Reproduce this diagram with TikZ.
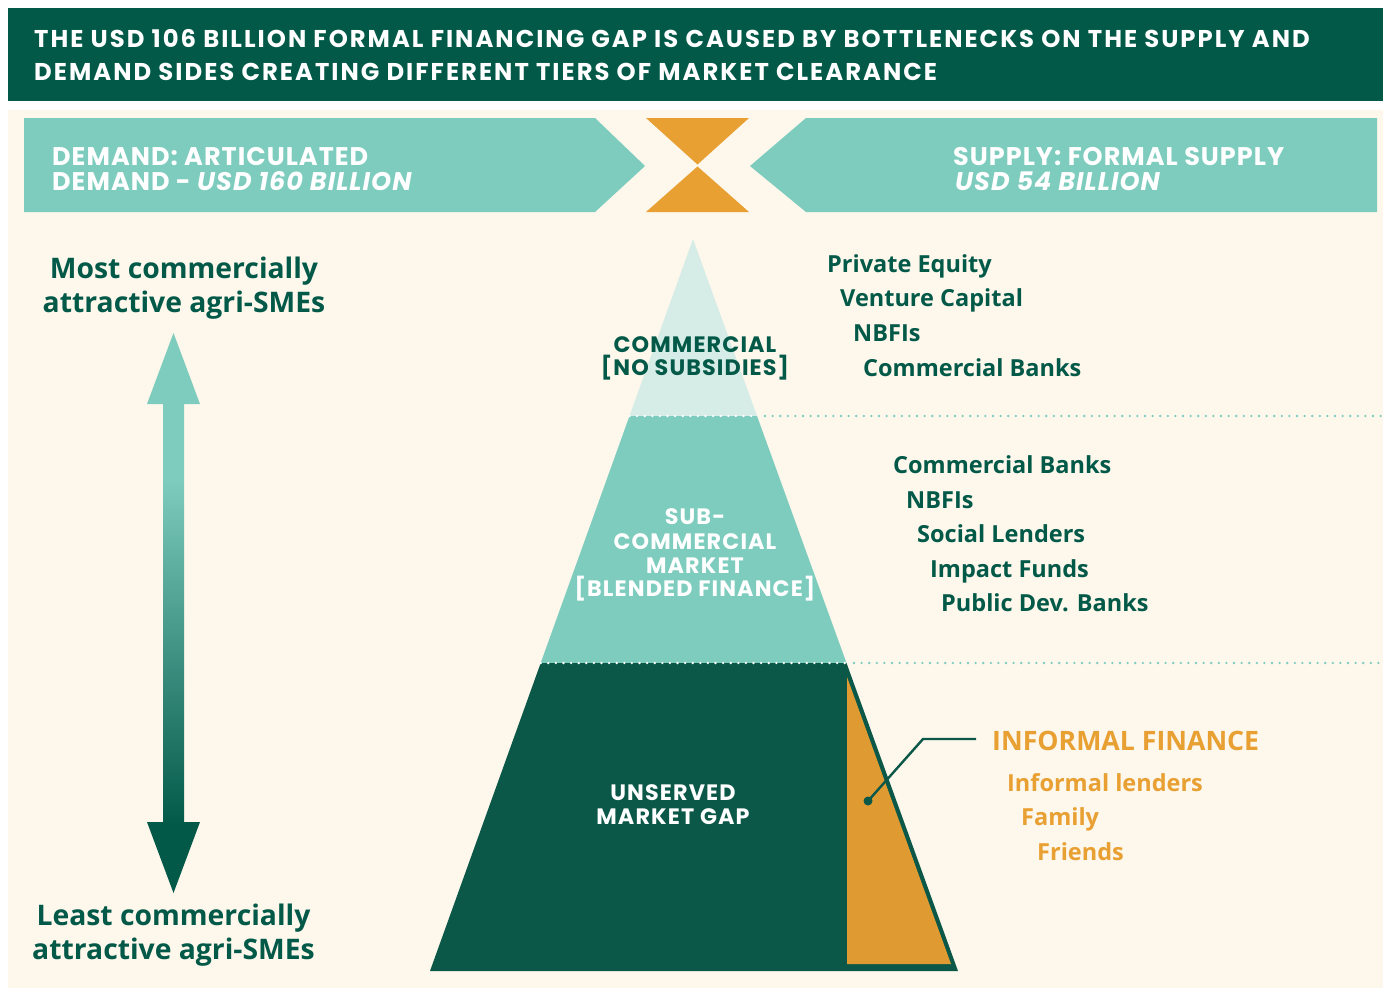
\documentclass[tikz,border=0pt]{standalone}
\usepackage{fontspec}
\setmainfont{Open Sans}
\newfontfamily\geoH[LetterSpace=8.3]{Poppins}
\newfontfamily\geoB[LetterSpace=4]{Poppins}
\newfontfamily\geoT[LetterSpace=5]{Poppins}
\definecolor{dkgreen}{RGB}{2,89,72}
\definecolor{pyrdark}{RGB}{12,88,72}
\definecolor{tealc}{RGB}{126,204,190}
\definecolor{lighttop}{RGB}{214,236,230}
\definecolor{cream}{RGB}{253,247,236}
\definecolor{orangec}{RGB}{233,160,51}
\definecolor{orangetri}{RGB}{223,155,50}
\pgfdeclareverticalshading{arrowgrad}{100bp}{color(0bp)=(dkgreen); color(31bp)=(dkgreen); color(62bp)=(tealc); color(100bp)=(tealc)}
\tikzset{
  hdr/.style={anchor=base west, inner sep=0pt, text=white, font=\geoH\bfseries\fontsize{24.3}{28}\selectfont},
  banner/.style={anchor=base west, inner sep=0pt, text=white, font=\geoB\bfseries\fontsize{25.5}{30}\selectfont},
  side/.style={anchor=base, inner sep=0pt, text=dkgreen, font=\bfseries\fontsize{28.3}{34}\selectfont},
  tier/.style={anchor=base, inner sep=0pt, font=\geoT\bfseries\fontsize{22.3}{24}\selectfont},
  lender/.style={anchor=base west, inner sep=0pt, text=dkgreen, font=\bfseries\fontsize{23.5}{26}\selectfont},
  inf/.style={anchor=base west, inner sep=0pt, text=orangec, font=\bfseries\fontsize{23.5}{26}\selectfont},
  dotline/.style={line width=2.6pt, line cap=round, dash pattern=on 0pt off 7.6pt},
}
\begin{document}
\begin{tikzpicture}[x=1pt,y=-1pt]
\useasboundingbox (0,0) rectangle (1383,990);
\fill[white] (0,0) rectangle (1383,990);
% header
\fill[dkgreen] (8,8) rectangle (1383,101);
\node[hdr] (h1) at (34,48) {THE USD 106 BILLION FORMAL FINANCING GAP IS CAUSED BY BOTTLENECKS ON THE SUPPLY AND};
\node[hdr] (h2) at (34,81) {DEMAND SIDES CREATING DIFFERENT TIERS OF MARKET CLEARANCE};
% cream panel
\fill[cream] (8,110) rectangle (1383,988);
% banners
\fill[tealc] (24,118) -- (595,118) -- (645,166) -- (595,212) -- (24,212) -- cycle;
\fill[tealc] (806,118) -- (1377,118) -- (1377,212) -- (806,212) -- (750,166) -- cycle;
\fill[orangec] (646,118) -- (749,118) -- (697.5,164.5) -- cycle;
\fill[orangec] (697.5,166.5) -- (749,212) -- (646,212) -- cycle;
\node[banner] (d1) at (52,165) {DEMAND: ARTICULATED};
\node[banner] (d2) at (52,190) {DEMAND - \itshape USD 160 BILLION};
\node[banner] (s1) at (953,165) {SUPPLY: FORMAL SUPPLY};
\node[banner] (s2) at (955,190) {\itshape USD 54 BILLION};
% side labels
\node[side] (m1) at (184,278) {Most commercially};
\node[side] (m2) at (184,312) {attractive agri-SMEs};
\node[side] (l1) at (173.5,925) {Least commercially};
\node[side] (l2) at (173.5,959) {attractive agri-SMEs};
% gradient double arrow
\shade[shading=arrowgrad] (173.5,333) -- (200,404) -- (184,404) -- (184,822) -- (200,822) -- (173.5,893)
  -- (147,822) -- (163,822) -- (163,404) -- (147,404) -- cycle;
% pyramid
\fill[lighttop] (693,239) -- (757,416) -- (629.5,416) -- cycle;
\fill[tealc] (629.5,416) -- (757,416) -- (846.5,663) -- (540.7,663) -- cycle;
\fill[pyrdark] (540.7,663) -- (846.5,663) -- (958,971) -- (430,971) -- cycle;
\fill[orangetri] (847,677) -- (951,964) -- (847,964) -- cycle;
% dotted tier lines
\draw[dotline, white] (629.5,416) -- (757,416);
\draw[dotline, tealc] (765,416) -- (1383,416);
\draw[dotline, white] (540.7,663) -- (846.5,663);
\draw[dotline, tealc] (854,663) -- (1383,663);
% tier labels
\node[tier, text=dkgreen] (c1) at (695,352) {COMMERCIAL};
\node[tier, text=dkgreen] (c2) at (695,375) {[NO SUBSIDIES]};
\node[tier, text=white] (sc1) at (695,524) {SUB-};
\node[tier, text=white] (sc2) at (695,549) {COMMERCIAL};
\node[tier, text=white] (sc3) at (695,573) {MARKET};
\node[tier, text=white] (sc4) at (695,596) {[BLENDED FINANCE]};
\node[tier, text=white] (u1) at (673,800) {UNSERVED};
\node[tier, text=white] (u2) at (673,824) {MARKET GAP};
% lenders
\node[lender] (p1) at (827,272) {Private Equity};
\node[lender] (p2) at (840,306) {Venture Capital};
\node[lender] (p3) at (853,341) {NBFIs};
\node[lender] (p4) at (863,376) {Commercial Banks};
\node[lender] (q1) at (893,473) {Commercial Banks};
\node[lender] (q2) at (906,508) {NBFIs};
\node[lender] (q3) at (917,542) {Social Lenders};
\node[lender] (q4) at (930,577) {Impact Funds};
\node[lender] (q5) at (941,611) {Public Dev. Banks};
% informal
\node[inf, font=\bfseries\fontsize{26.7}{30}\selectfont] (i0) at (992,750) {INFORMAL FINANCE};
\node[inf] (i1) at (1007,791) {Informal lenders};
\node[inf] (i2) at (1021,825) {Family};
\node[inf] (i3) at (1037,860) {Friends};
% callout
\coordinate (cdot) at (868,801);
\coordinate (celbow) at (923,739);
\coordinate (cend) at (976,739);
\draw[pyrdark, line width=2.4pt] (cdot) -- (celbow) -- (cend);
\fill[pyrdark] (cdot) circle (4.5);
\end{tikzpicture}
\end{document}
